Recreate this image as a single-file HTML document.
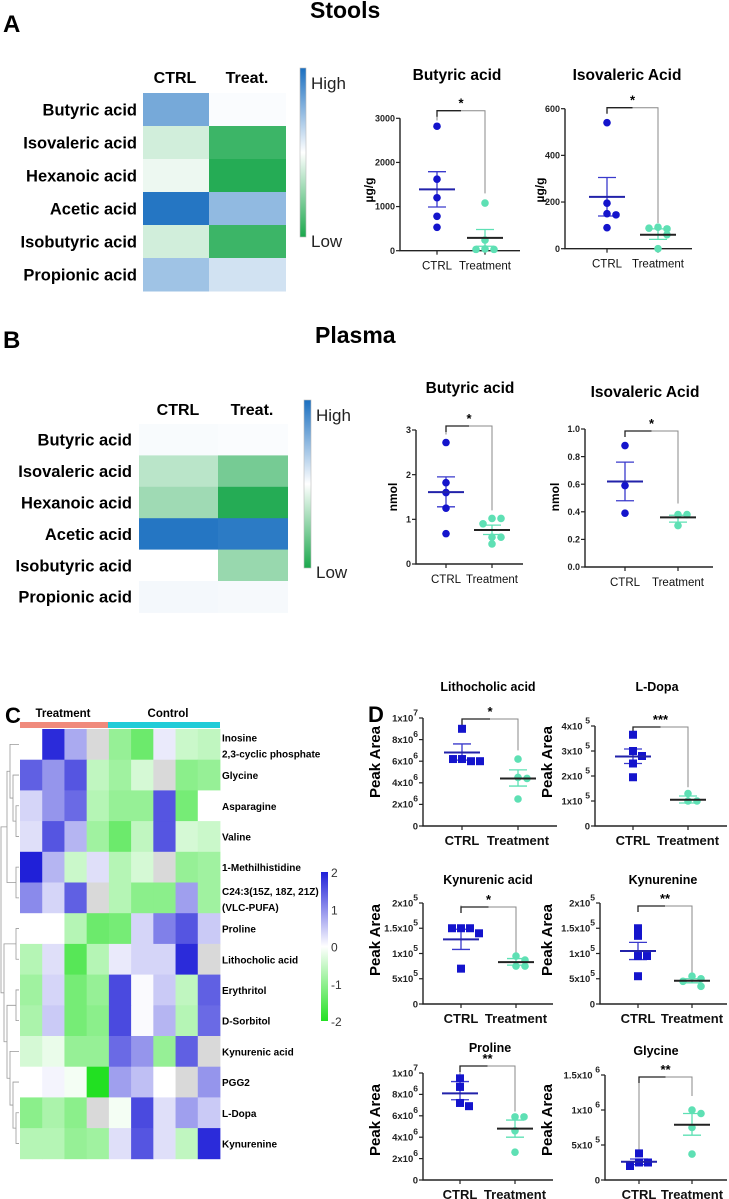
<!DOCTYPE html>
<html><head><meta charset="utf-8"><style>
html,body{margin:0;padding:0;background:#fff}
svg{display:block;font-family:"Liberation Sans",Arial,sans-serif}
</style></head><body>
<svg id="fig" width="729" height="1199" viewBox="0 0 729 1199" xmlns="http://www.w3.org/2000/svg">
<defs>
<linearGradient id="gAB" x1="0" y1="0" x2="0" y2="1">
<stop offset="0" stop-color="#1a6fc0"/><stop offset="0.5" stop-color="#ffffff"/><stop offset="1" stop-color="#1aa84c"/>
</linearGradient>
<linearGradient id="gC" x1="0" y1="0" x2="0" y2="1">
<stop offset="0" stop-color="#2020d8"/><stop offset="0.5" stop-color="#ffffff"/><stop offset="1" stop-color="#22e022"/>
</linearGradient>
</defs>
<text x="3" y="32" font-size="24" font-weight="bold">A</text>
<text x="310" y="18" font-size="23" font-weight="bold">Stools</text>
<text x="3" y="348" font-size="24" font-weight="bold">B</text>
<text x="315" y="343" font-size="23" font-weight="bold">Plasma</text>
<text x="5" y="723" font-size="22" font-weight="bold">C</text>
<text x="368" y="722" font-size="22" font-weight="bold">D</text>
<g id="root"></g>
</svg>
<script>
// ---------- data: panels A/B heatmaps (relative level -1..1) ----------
const scfaNames = ["Butyric acid","Isovaleric acid","Hexanoic acid","Acetic acid","Isobutyric acid","Propionic acid"];
const stoolCtrl = [0.6, -0.2, -0.08, 0.95, -0.2, 0.42];
const stoolTreat = [0.02, -0.85, -0.95, 0.48, -0.85, 0.2];
const plasmaCtrl = [0.03, -0.3, -0.42, 0.95, 0, 0.05];
const plasmaTreat = [0.02, -0.6, -0.95, 0.92, -0.45, 0.04];

// ---------- data: panel C heatmap (z-score, null = grey) ----------
const metNames = ["Inosine|2,3-cyclic phosphate","Glycine","Asparagine","Valine","1-Methilhistidine","C24:3(15Z, 18Z, 21Z)|(VLC-PUFA)","Proline","Lithocholic acid","Erythritol","D-Sorbitol","Kynurenic acid","PGG2","L-Dopa","Kynurenine"];
const zInosine = [0, 2, 0.8, null, -1, -1.4, 0.2, -0.5, -0.6];
const zGlycine = [1.5, 1.0, 1.6, -0.6, -0.9, -0.4, null, -1.1, -1.0];
const zAsparagine = [0.4, 1.0, 1.4, -0.7, -1.0, -1.0, 1.6, -1.3, 0];
const zValine = [0.3, 1.6, 0.7, -0.9, -1.4, -0.6, 1.6, -0.4, -0.5];
const zMethil = [2.2, 0.7, -0.5, 0.3, -0.7, -0.4, null, -1.0, -0.9];
const zC24 = [1.1, 0.4, 1.5, null, -0.7, -1.1, -1.1, 0.9, -0.9];
const zProline = [0, 0, -0.7, -1.4, -1.3, 0.4, 1.2, 1.6, 0.5];
const zLitho = [-0.7, 0.3, -1.6, -0.7, 0.2, 0.4, 0.4, 2.0, null];
const zEry = [-0.9, 0.4, -1.3, -1.0, 1.7, 0.05, 0.5, -0.6, 1.5];
const zSorb = [-0.8, 0.5, -1.3, -1.1, 1.7, 0.05, 0.7, -0.7, 1.4];
const zKynAc = [-0.4, -0.2, -1.0, -1.0, 1.4, 1.0, -1.0, 1.5, null];
const zPGG2 = [0, 0.1, -0.1, -2.2, 0.9, 0.6, 0, null, 1.0];
const zLDopa = [-1.1, -0.8, -1.1, null, -0.1, 1.7, 0.3, 0.9, 0.5];
const zKyn = [-0.7, -0.7, -1.0, -0.9, 0.3, 1.6, 0.3, -0.6, 2.0];
const colorbarTicks = [2, 1, 0, -1, -2];

// ---------- data: dot plots ----------
const stButCtrl=[2820,1620,1200,780,530], stButTreat=[1080,240,40,30,30], stButStats=[1390,1790,990,290,480,100], stButTicks=["0","1000","2000","3000"];
const stIsoCtrl=[540,195,150,145,90], stIsoTreat=[92,85,88,60,0], stIsoStats=[222,305,140,60,85,40], stIsoTicks=["0","200","400","600"];
const plButCtrl=[2.72,1.82,1.6,1.25,0.68], plButTreat=[1.02,1.02,0.9,0.6,0.6,0.45], plButStats=[1.61,1.95,1.28,0.76,0.87,0.66], plButTicks=["0","1","2","3"];
const plIsoCtrl=[0.88,0.59,0.39], plIsoTreat=[0.38,0.38,0.3], plIsoStats=[0.62,0.76,0.48,0.36,0.375,0.325], plIsoTicks=["0.0","0.2","0.4","0.6","0.8","1.0"];
const lithoCtrl=[9.0,6.2,6.0,6.2,6.0], lithoTreat=[6.2,4.5,4.4,2.5], lithoStats=[6.8,7.6,6.1,4.4,5.2,3.7], lithoTicks=["0","2x10^6","4x10^6","6x10^6","8x10^6","1x10^7"];
const dopaCtrl=[3.65,3.0,2.8,2.5,1.95], dopaTreat=[1.3,1.0,1.0], dopaStats=[2.78,3.08,2.5,1.05,1.2,0.92], dopaTicks=["0","1x10 ^5","2x10 ^5","3x10 ^5","4x10 ^5"];
const kynAcCtrl=[1.5,1.5,1.5,1.4,0.7], kynAcTreat=[0.95,0.87,0.75,0.75], kynAcStats=[1.28,1.48,1.08,0.83,0.9,0.77], kynAcTicks=["0","5x10^5","1x10^5","1.5x10^5","2x10^5"];
const kynCtrl=[1.5,1.35,0.95,0.95,0.55], kynTreat=[0.55,0.5,0.45,0.35], kynStats=[1.05,1.22,0.88,0.46,0.5,0.42], kynTicks=["0","5x10^5","1x10^5","1.5x10^5","2x10^5"];
const proCtrl=[9.5,8.7,7.2,6.9], proTreat=[5.9,5.9,4.6,2.6], proStats=[8.1,9.2,7.5,4.8,5.6,4.0], proTicks=["0","2x10^6","4x10^6","6x10^6","8x10^6","1x10^7"];
const glyCtrl=[0.38,0.25,0.25,0.2], glyTreat=[1.0,0.95,0.75,0.37], glyStats=[0.26,0.3,0.22,0.79,0.95,0.64], glyTicks=["0","5x10 ^5","1x10 ^6","1.5x10 ^6"];

const NS="http://www.w3.org/2000/svg";
const root=document.getElementById('root');
function mk(tag,attrs,parent,text){const e=document.createElementNS(NS,tag);for(const k in attrs)e.setAttribute(k,attrs[k]);if(text!==undefined)e.textContent=text;(parent||root).appendChild(e);return e;}
function mix(a,b,t){const pa=[1,3,5].map(i=>parseInt(a.substr(i,2),16)),pb=[1,3,5].map(i=>parseInt(b.substr(i,2),16));return 'rgb('+pa.map((v,i)=>Math.round(v+(pb[i]-v)*t)).join(',')+')';}

// ---------- heatmaps A / B ----------
function scfaHeat(L,ctrl,treat,name){
  const g=mk('g',{});
  
  
  const cols=[ctrl,treat];
  cols.forEach((col,ci)=>{
    col.forEach((v,ri)=>{
      const c=v>=0?mix('#ffffff','#1a6fc0',Math.min(1,v)):mix('#ffffff','#1aa84c',Math.min(1,-v));
      const r=mk('rect',{x:L.xs[ci],y:L.y0+ri*L.rh,width:L.xs[ci+1]-L.xs[ci],height:L.rh+0.5,fill:c},g);
      
      
    });
  });
  scfaNames.forEach((n,ri)=>{
    const t=mk('text',{x:L.lx,y:L.y0+ri*L.rh+L.rh/2+6,'text-anchor':'end','font-size':16.5,'font-weight':'bold'},g,n);
    
    
  });
  const h1=mk('text',{x:L.hx[0],y:L.hy,'text-anchor':'middle','font-size':16,'font-weight':'bold'},g,'CTRL');
  
  
  const h2=mk('text',{x:L.hx[1],y:L.hy,'text-anchor':'middle','font-size':16,'font-weight':'bold'},g,'Treat.');
  
  
  const cb=mk('rect',{x:L.cb[0],y:L.cb[1],width:L.cb[2],height:L.cb[3],fill:'url(#gAB)',stroke:'#bbb','stroke-width':0.6},g);
  
  
  const hi=mk('text',{x:L.cb[0]+L.cb[2]+5,y:L.cb[1]+21,'font-size':17,fill:'#222'},g,'High');
  
  
  const lo=mk('text',{x:L.cb[0]+L.cb[2]+5,y:L.cb[1]+L.cb[3]+10,'font-size':17,fill:'#222'},g,'Low');
  
  
}
scfaHeat({xs:[143,209,286],y0:93,rh:33,lx:137,hx:[175,247],hy:83,cb:[300,68,6,169]},stoolCtrl,stoolTreat,'stool-heatmap');
scfaHeat({xs:[139,218,288],y0:424,rh:31.4,lx:132,hx:[178,252],hy:415,cb:[304,400,7,168]},plasmaCtrl,plasmaTreat,'plasma-heatmap');

// ---------- heatmap C ----------
(function(){
  const rows=[zInosine,zGlycine,zAsparagine,zValine,zMethil,zC24,zProline,zLitho,zEry,zSorb,zKynAc,zPGG2,zLDopa,zKyn];
  const x0=20,cw=200/9,y0=729,rh=30.7;
  const g=mk('g',{});
  
  
  const b1=mk('rect',{x:20,y:722,width:88,height:6,fill:'#f08a7c'},g);
  
  
  const b2=mk('rect',{x:108,y:722,width:112,height:6,fill:'#20ccd8'},g);
  
  
  const t1=mk('text',{x:63,y:717,'text-anchor':'middle','font-size':11.5,'font-weight':'bold'},g,'Treatment');
  
  
  const t2=mk('text',{x:168,y:717,'text-anchor':'middle','font-size':11.5,'font-weight':'bold'},g,'Control');
  
  
  rows.forEach((row,ri)=>{
    row.forEach((v,ci)=>{
      let c;
      if(v===null)c='#d9d9d9';
      else if(v>=0)c=mix('#ffffff','#2020d8',Math.min(1,v/2.1));
      else c=mix('#ffffff','#22e022',Math.min(1,-v/2.1));
      const r=mk('rect',{x:x0+ci*cw,y:y0+ri*rh,width:cw+0.4,height:rh+0.4,fill:c},g);
      
      
    });
    const parts=metNames[ri].split('|');
    parts.forEach((p,pi)=>{
      const yy=parts.length>1?y0+ri*rh+rh/2-3+pi*16:y0+ri*rh+rh/2+4;
      const t=mk('text',{x:222,y:yy,'font-size':10,'font-weight':'bold'},g,p);
      
      
    });
  });
  // dendrogram
  const tree=[[[0,[1,[2,3]]],[4,5]],[[6,7],[[8,9],[10,[11,[12,13]]]]]];
  function depth(n){return Array.isArray(n)?1+Math.max(depth(n[0]),depth(n[1])):0;}
  const D=depth(tree);
  function draw(n){
    if(!Array.isArray(n))return {y:y0+n*rh+rh/2,x:19};
    const a=draw(n[0]),b=draw(n[1]);
    const x=19-depth(n)*(18/D);
    const p=mk('path',{d:`M${a.x},${a.y}H${x}V${b.y}H${b.x}`,fill:'none',stroke:'#999','stroke-width':0.8},g);
    
    
    return {y:(a.y+b.y)/2,x:x};
  }
  draw(tree);
  const cb=mk('rect',{x:321,y:872,width:7,height:149,fill:'url(#gC)'},g);
  
  
  colorbarTicks.forEach(v=>{
    const t=mk('text',{x:331,y:872+(2-v)/4*149+5,'font-size':12,fill:'#333'},g,String(v));
    
    
  });
})();

// ---------- dot plots ----------
function tickText(g,x,y,s,fs){
  const t=mk('text',{x:x,y:y,'text-anchor':'end','font-size':fs,'font-weight':'bold',fill:'#222'},g);
  
  
  const i=s.indexOf('^');
  if(i<0){t.textContent=s;return;}
  mk('tspan',{},t,s.slice(0,i));
  mk('tspan',{dy:-6,'font-size':fs*0.9},t,s.slice(i+1));
}
function dotPlot(L,ctrl,treat,stats,ticks,name){
  const g=mk('g',{});
  
  
  const vmax=L.vmax;
  const Y=v=>L.y0-(v/vmax)*(L.y0-L.yTop);
  const ax=mk('path',{d:`M${L.ax},${L.yTop}V${L.y0}H${L.xEnd}`,fill:'none',stroke:'#222','stroke-width':1.4},g);
  
  
  ticks.forEach((s,i)=>{
    const v=vmax*i/(ticks.length-1), y=Y(v);
    mk('line',{x1:L.ax-4,x2:L.ax,y1:y,y2:y,stroke:'#222','stroke-width':1.2},g);
    tickText(g,L.ax-5,y+L.fs*0.35,s,L.fs);
  });
  [L.cx,L.tx].forEach(x=>mk('line',{x1:x,x2:x,y1:L.y0,y2:L.y0+4,stroke:'#222','stroke-width':1.2},g));
  const xl1=mk('text',{x:L.cx,y:L.y0+L.xly,'text-anchor':'middle','font-size':L.xfs,fill:'#111','font-weight':L.xw},g,'CTRL');
  
  
  const xl2=mk('text',{x:L.tx,y:L.y0+L.xly,'text-anchor':'middle','font-size':L.xfs,fill:'#111','font-weight':L.xw},g,'Treatment');
  
  
  const ti=mk('text',{x:L.titleX,y:L.titleY,'text-anchor':'middle','font-size':L.tfs,'font-weight':'bold'},g,L.title);
  
  
  const yl=mk('text',{x:L.ylx,y:L.yly,'text-anchor':'middle','font-size':L.yfs,'font-weight':'bold',transform:`rotate(-90 ${L.ylx} ${L.yly})`},g,L.ylab);
  
  
  const br=mk('path',{d:`M${L.cx},${Y(L.bc)}V${L.by}H${L.tx}V${Y(L.bt)}`,fill:'none',stroke:'#888','stroke-width':1},g);
  
  
  mk('path',{d:`M${L.cx},${L.by+6}V${L.by}H${(L.cx+L.tx)/2}`,fill:'none',stroke:'#222','stroke-width':1.3},g);
  const st=mk('text',{x:(L.cx+L.tx)/2,y:L.by-3,'text-anchor':'middle','font-size':13,'font-weight':'bold'},g,L.stars);
  
  
  const groups=[[ctrl,L.cx,'#1414cc',stats[0],stats[1],stats[2],L.shape],[treat,L.tx,'#5ee0b4',stats[3],stats[4],stats[5],'circle']];
  groups.forEach(([vals,cx,col,m,hi,lo,shape],gi)=>{
    const ecol=gi?'#5ee0b4':'#3a3acc';
    const e=mk('path',{d:`M${cx-9},${Y(hi)}H${cx+9}M${cx},${Y(hi)}V${Y(lo)}M${cx-9},${Y(lo)}H${cx+9}`,stroke:ecol,'stroke-width':1.3,fill:'none'},g);
    
    
    const placed=[];
    vals.forEach(v=>{
      const y=Y(v);
      const near=placed.filter(p=>Math.abs(p-y)<6).length;
      placed.push(y);
      const off=near===0?0:(near%2?1:-1)*Math.ceil(near/2)*9;
      let p;
      if(shape==='square')p=mk('rect',{x:cx+off-4,y:y-4,width:8,height:8,fill:col},g);
      else p=mk('circle',{cx:cx+off,cy:y,r:3.8,fill:col},g);
      
      
    });
    const ml=mk('line',{x1:cx-18,x2:cx+18,y1:Y(m),y2:Y(m),stroke:gi?'#222':'#2222aa','stroke-width':2},g);
    
    
  });
}
const AB={fs:9,xfs:11.5,xly:19,xw:'normal',tfs:15.5,yfs:12,shape:'circle'};
dotPlot(Object.assign({},AB,{ax:400,yTop:118.3,y0:250.7,vmax:3000,xEnd:520,cx:437,tx:485,title:'Butyric acid',titleX:457,titleY:80,ylab:'µg/g',ylx:373,yly:190,by:110.7,bc:2950,bt:1300,stars:'*'}),stButCtrl,stButTreat,stButStats,stButTicks,'stool-butyric-plot');
dotPlot(Object.assign({},AB,{ax:565,yTop:108.7,y0:248.7,vmax:600,xEnd:692,cx:607,tx:658,title:'Isovaleric Acid',titleX:627,titleY:80,ylab:'µg/g',ylx:544,yly:190,by:107.7,bc:590,bt:110,stars:'*'}),stIsoCtrl,stIsoTreat,stIsoStats,stIsoTicks,'stool-isovaleric-plot');
dotPlot(Object.assign({},AB,{ax:416,yTop:430,y0:564,vmax:3,xEnd:523,cx:446,tx:492,title:'Butyric acid',titleX:470,titleY:393,ylab:'nmol',ylx:397,yly:497,by:426,bc:2.9,bt:1.2,stars:'*'}),plButCtrl,plButTreat,plButStats,plButTicks,'plasma-butyric-plot');
dotPlot(Object.assign({},AB,{ax:585,yTop:429,y0:567,vmax:1.0,xEnd:713,cx:625,tx:678,title:'Isovaleric Acid',titleX:645,titleY:397,ylab:'nmol',ylx:559,yly:497,by:431,bc:0.97,bt:0.46,stars:'*'}),plIsoCtrl,plIsoTreat,plIsoStats,plIsoTicks,'plasma-isovaleric-plot');
const DD={fs:9.5,xfs:13,xly:19,xw:'bold',tfs:12.5,yfs:15,shape:'square',ylab:'Peak Area'};
dotPlot(Object.assign({},DD,{ax:423,yTop:718,y0:826,vmax:10,xEnd:557,cx:462,tx:518,title:'Lithocholic acid',titleX:488,titleY:691,ylx:380,yly:762,by:719,bc:9.8,bt:7.0,stars:'*'}),lithoCtrl,lithoTreat,lithoStats,lithoTicks,'lithocholic-plot');
dotPlot(Object.assign({},DD,{ax:595,yTop:726,y0:826,vmax:4,xEnd:727,cx:633,tx:688,title:'L-Dopa',titleX:657,titleY:691,ylx:552,yly:762,by:727,bc:3.9,bt:1.55,stars:'***'}),dopaCtrl,dopaTreat,dopaStats,dopaTicks,'l-dopa-plot');
dotPlot(Object.assign({},DD,{ax:423,yTop:903,y0:1004,vmax:2,xEnd:553,cx:461,tx:516,title:'Kynurenic acid',titleX:488,titleY:884,ylx:380,yly:940,by:907,bc:1.95,bt:1.0,stars:'*'}),kynAcCtrl,kynAcTreat,kynAcStats,kynAcTicks,'kynurenic-acid-plot');
dotPlot(Object.assign({},DD,{ax:600,yTop:903,y0:1004,vmax:2,xEnd:727,cx:638,tx:692,title:'Kynurenine',titleX:663,titleY:884,ylx:552,yly:940,by:906,bc:1.95,bt:0.6,stars:'**'}),kynCtrl,kynTreat,kynStats,kynTicks,'kynurenine-plot');
dotPlot(Object.assign({},DD,{ax:423,yTop:1073,y0:1180,vmax:10,xEnd:553,cx:460,tx:515,title:'Proline',titleX:490,titleY:1052,ylx:380,yly:1120,by:1066,bc:9.8,bt:6.4,stars:'**'}),proCtrl,proTreat,proStats,proTicks,'proline-plot');
dotPlot(Object.assign({},DD,{ax:605,yTop:1075,y0:1180,vmax:1.5,xEnd:727,cx:639,tx:692,title:'Glycine',titleX:656,titleY:1055,ylx:552,yly:1120,by:1077,bc:0.4,bt:1.2,stars:'**'}),glyCtrl,glyTreat,glyStats,glyTicks,'glycine-plot');
</script>
</body></html>
